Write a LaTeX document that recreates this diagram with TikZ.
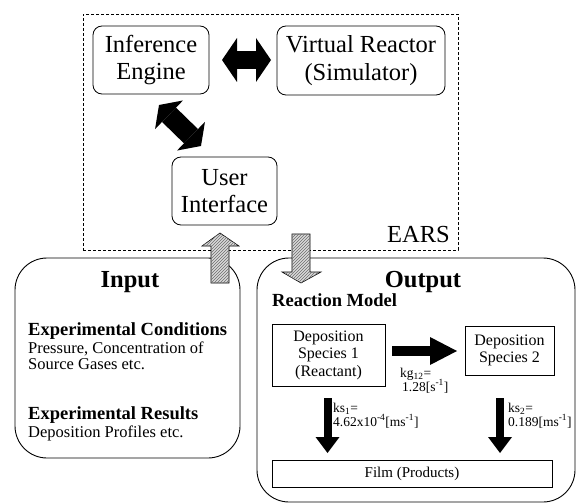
\documentclass[tikz,border=0pt]{standalone}
\usepackage{fontspec}
\setmainfont{Liberation Serif}
\usetikzlibrary{arrows.meta,patterns}
\tikzset{
  rbox/.style={draw, rounded corners=9pt, line width=0.8pt, align=center, inner sep=0pt, outer sep=0pt, font=\fontsize{24.5}{27.5}\selectfont},
  bigbox/.style={draw, rounded corners=32pt, line width=0.9pt, inner sep=0pt, outer sep=0pt},
  sqbox/.style={draw, line width=0.8pt, align=center, inner sep=0pt, outer sep=0pt, font=\fontsize{16}{17.5}\selectfont},
  dashbox/.style={draw, dash pattern=on 3pt off 2pt, line width=0.7pt, inner sep=0pt, outer sep=0pt},
  hatch/.style={draw, line width=0.6pt, fill=gray!30, postaction={pattern=north east lines, pattern color=gray!85!black}},
  fatdbl/.style={line width=18pt, {Triangle[length=15pt,width=44pt,line width=0pt]}-{Triangle[length=15pt,width=44pt,line width=0pt]}},
  fatdiag/.style={line width=20pt, {Triangle[length=14pt,width=40pt,line width=0pt]}-{Triangle[length=14pt,width=40pt,line width=0pt]}},
  kgarrow/.style={line width=10pt, -{Triangle[length=27pt,width=28pt,line width=0pt]}},
  ksarrow/.style={line width=8pt, -{Triangle[length=16pt,width=24pt,line width=0pt]}},
  lbl/.style={inner sep=0pt, anchor=base west, font=\fontsize{13.5}{15}\selectfont},
  title/.style={inner sep=0pt, anchor=base, font=\fontsize{24.5}{27}\selectfont\bfseries},
  head/.style={inner sep=0pt, anchor=base west, font=\fontsize{18.5}{20}\selectfont\bfseries},
  body/.style={inner sep=0pt, anchor=base west, font=\fontsize{16.5}{18}\selectfont},
}
\begin{document}
\begin{tikzpicture}[x=1pt,y=-1pt]
\useasboundingbox (0,0) rectangle (576,503);
% EARS dashed region
\node[dashbox, minimum width=375pt, minimum height=236pt] (earsbox) at (270.5,132) {};
\node[inner sep=0pt, anchor=base east, font=\fontsize{24.5}{27}\selectfont] (ears) at (450,242) {EARS};
% EARS components
\node[rbox, minimum width=116pt, minimum height=68pt] (ie) at (151,60) {Inference\\Engine};
\node[rbox, minimum width=168pt, minimum height=69pt] (vr) at (361,60.5) {Virtual Reactor\\(Simulator)};
\node[rbox, minimum width=105pt, minimum height=68pt] (ui) at (224.5,191) {User\\Interface};
% fat double arrows
\coordinate (h1) at (222,60);
\coordinate (h2) at (271,60);
\draw[fatdbl] (h1) -- (h2);
\coordinate (d1) at (159,105);
\coordinate (d2) at (201,146);
\draw[fatdiag] (d1) -- (d2);
% Input box
\node[bigbox, minimum width=225pt, minimum height=200pt] (inbox) at (127.5,358) {};
\node[title] (intitle) at (130,287) {Input};
\node[head] (expc) at (28,335) {Experimental Conditions};
\node[body] (expc1) at (28,353) {Pressure, Concentration of};
\node[body] (expc2) at (28,369) {Source Gases etc.};
\node[head] (expr) at (28,419) {Experimental Results};
\node[body] (expr1) at (28,437) {Deposition Profiles etc.};
% Output box
\node[bigbox, minimum width=318pt, minimum height=244pt] (outbox) at (416,380) {};
\node[title] (outtitle) at (423,287) {Output};
\node[head] (rm) at (272,306) {Reaction Model};
\node[sqbox, minimum width=113pt, minimum height=62pt] (ds1) at (328.5,355) {Deposition\\Species 1\\(Reactant)};
\node[sqbox, minimum width=89pt, minimum height=49pt] (ds2) at (509.5,350.5) {Deposition\\Species 2};
\node[sqbox, minimum width=280pt, minimum height=27pt, font=\fontsize{15}{17}\selectfont] (film) at (412,473.5) {Film (Products)};
% reaction arrows
\coordinate (k1) at (392,351);
\coordinate (k2) at (457,351);
\draw[kgarrow] (k1) -- (k2);
\coordinate (s1a) at (327.5,398);
\coordinate (s1b) at (327.5,453);
\draw[ksarrow] (s1a) -- (s1b);
\coordinate (s2a) at (500,398);
\coordinate (s2b) at (500,453);
\draw[ksarrow] (s2a) -- (s2b);
\node[lbl] (kg) at (400,377) {kg\textsubscript{12}=};
\node[lbl] (kgv) at (402,391) {1.28[s\textsuperscript{-1}]};
\node[lbl] (ks1) at (333,412) {ks\textsubscript{1}=};
\node[lbl] (ks1v) at (333,426) {4.62x10\textsuperscript{-4}[ms\textsuperscript{-1}]};
\node[lbl] (ks2) at (508,412) {ks\textsubscript{2}=};
\node[lbl] (ks2v) at (508,426) {0.189[ms\textsuperscript{-1}]};
% hatched transfer arrows
\draw[hatch] (211,283) -- (211,246) -- (202,246) -- (220,233) -- (239,246) -- (229,246) -- (229,283) -- cycle;
\draw[hatch] (292,234) -- (310,234) -- (310,272) -- (321,272) -- (301,283) -- (282,272) -- (292,272) -- cycle;
\end{tikzpicture}
\end{document}
